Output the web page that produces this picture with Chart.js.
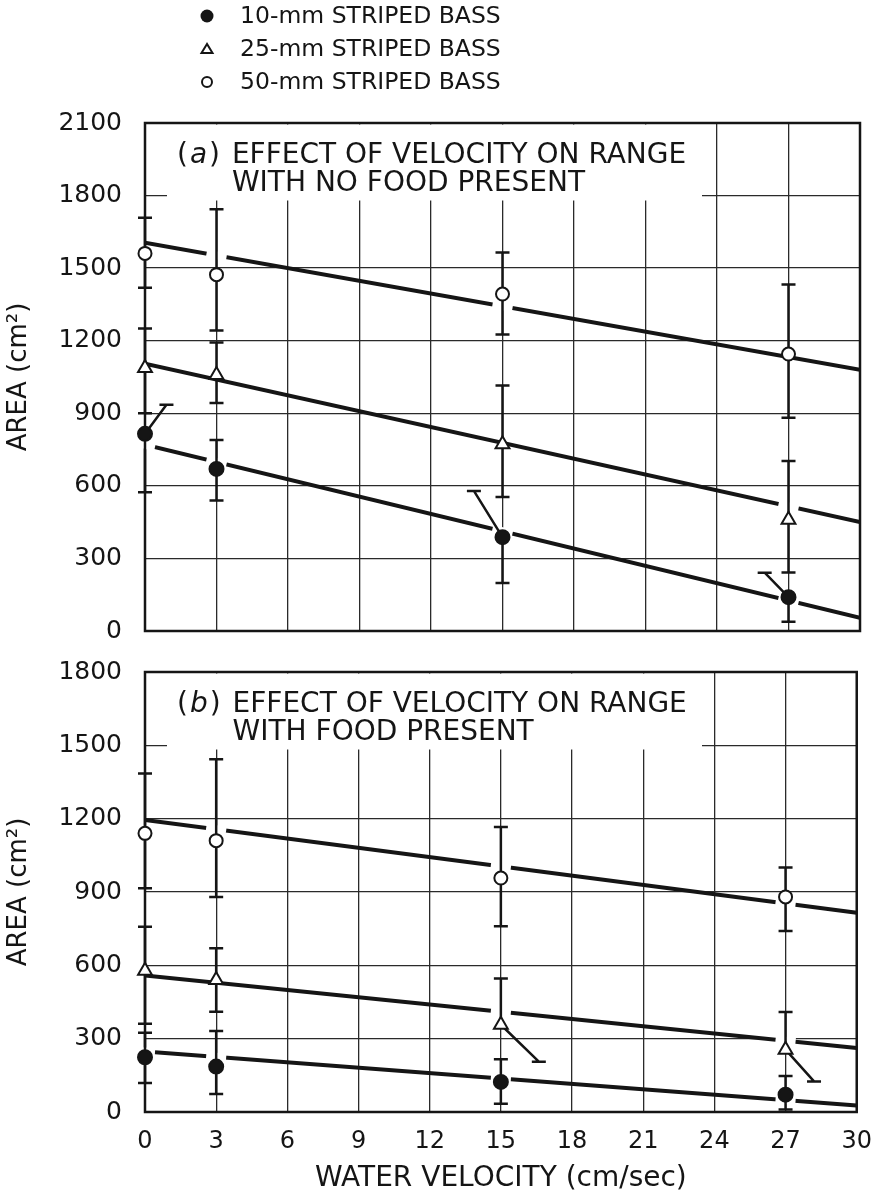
<!DOCTYPE html>
<html>
<head>
<meta charset="utf-8">
<script src="https://cdn.jsdelivr.net/npm/chart.js@4.4.1/dist/chart.umd.min.js"></script>
<style>
    html, body { margin: 0; padding: 0; background: #fff; }
    #wrap { position: relative; width: 887px; height: 1198px; }
    /* the two canvases overlap a little: the y tick padding forces 38px above/below each plot */
    #boxA { position: absolute; left: 0; top: 0; width: 887px; height: 669px; }
    #boxB { position: absolute; left: 0; top: 634px; width: 887px; height: 564px; }
</style>
</head>
<body>
<div id="wrap">
    <div id="boxA"><canvas id="chartA"></canvas></div>
    <div id="boxB"><canvas id="chartB"></canvas></div>
</div>
<script>
// ============================================
// Data
// ============================================

const velocity = [0, 3, 15, 27];
const fitX = [0, 30];
const sizes = ['10-mm STRIPED BASS', '25-mm STRIPED BASS', '50-mm STRIPED BASS'];

const xTickValues = [0, 3, 6, 9, 12, 15, 18, 21, 24, 27, 30];
const yTickValuesA = [0, 300, 600, 900, 1200, 1500, 1800, 2100];
const yTickValuesB = [0, 300, 600, 900, 1200, 1500, 1800];

// (a) no food present
const a10 = [815, 670, 388, 140];
const a10Hi = [935, 790, 579, 241];
const a10Lo = [574, 539, 198, 38];
const a25 = [1087, 1058, 772, 460];
const a25Hi = [1251, 1193, 1015, 703];
const a25Lo = [900, 943, 554, 242];
const a50 = [1561, 1473, 1393, 1145];
const a50Hi = [1708, 1743, 1565, 1432];
const a50Lo = [1419, 1242, 1226, 882];
const aFit10 = [770, 55];
const aFit25 = [1105, 450];
const aFit50 = [1605, 1080];

// (b) food present
const b10 = [224, 186, 123, 71];
const b10Hi = [324, 331, 216, 147];
const b10Lo = [119, 74, 34, 10];
const b25 = [578, 540, 357, 255];
const b25Hi = [758, 670, 546, 409];
const b25Lo = [361, 410, 206, 125];
const b50 = [1140, 1110, 957, 880];
const b50Hi = [1385, 1443, 1166, 1000];
const b50Lo = [915, 880, 760, 740];
const bFit10 = [248, 27];
const bFit25 = [558, 262];
const bFit50 = [1195, 815];

const noteA = ['EFFECT OF VELOCITY ON RANGE', 'WITH NO FOOD PRESENT'];
const noteB = ['EFFECT OF VELOCITY ON RANGE', 'WITH FOOD PRESENT'];

// limbs the print draws on a slant to dodge neighbouring bars (dx in cm/sec)
const slantA = [
    { size: 0, point: 0, end: 'hi', dx: 0.9 },
    { size: 0, point: 2, end: 'hi', dx: -1.2 },
    { size: 0, point: 3, end: 'hi', dx: -1.0 }
];
const slantB = [
    { size: 1, point: 2, end: 'lo', dx: 1.6 },
    { size: 1, point: 3, end: 'lo', dx: 1.2 }
];

// where the print leaves a break in each fitted line (point indexes, per size)
const breaksA = [[0, 1, 2, 3], [3], [1, 2]];
const breaksB = [[0, 1, 2, 3], [2, 3], [1, 2, 3]];

// ============================================
// Styling
// ============================================

const INK = '#151515';
const FONT = '"DejaVu Sans", sans-serif';

const markerStyle = [
    { pointStyle: 'circle', radius: 7, fill: INK },
    { pointStyle: 'triangle', radius: 8, fill: '#fff' },
    { pointStyle: 'circle', radius: 6.5, fill: '#fff' }
];

// ============================================
// Plugins
// ============================================

const errorBars = {
    id: 'errorBars',
    beforeDatasetsDraw(chart) {
        chart.$barsDrawn = false;
    },
    beforeDatasetDraw(chart, args, opts) {
        const sets = chart.data.datasets;
        if (sets[args.index].kind !== 'marker' || chart.$barsDrawn) return;
        chart.$barsDrawn = true;

        const ctx = chart.ctx;
        const xs = chart.scales.x;
        const ys = chart.scales.y;
        ctx.save();

        // short breaks in the fitted lines where they meet an error bar
        ctx.strokeStyle = '#fff';
        ctx.lineWidth = 8;
        sets.forEach((d, di) => {
            if (d.kind !== 'marker') return;
            const fi = sets.findIndex(f => f.kind === 'fit' && f.size === d.size);
            const fp = chart.getDatasetMeta(fi).data;
            const slope = (fp[1].y - fp[0].y) / (fp[1].x - fp[0].x);
            const pts = chart.getDatasetMeta(di).data;
            (opts.breaks[d.size] || []).forEach(j => {
                const p = pts[j];
                const ly = fp[0].y + slope * (p.x - fp[0].x);
                ctx.beginPath();
                ctx.moveTo(p.x - 10, ly - slope * 10);
                ctx.lineTo(p.x + 10, ly + slope * 10);
                ctx.stroke();
            });
        });

        ctx.strokeStyle = INK;
        ctx.lineWidth = 2.5;
        sets.forEach((d, di) => {
            if (d.kind !== 'marker') return;
            chart.getDatasetMeta(di).data.forEach((p, j) => {
                [['hi', d.hi[j]], ['lo', d.lo[j]]].forEach(([end, v]) => {
                    const s = (opts.slants || []).find(k => k.size === d.size && k.point === j && k.end === end);
                    const xe = s ? xs.getPixelForValue(velocity[j] + s.dx) : p.x;
                    const ye = ys.getPixelForValue(v);
                    ctx.beginPath();
                    ctx.moveTo(p.x, p.y);
                    ctx.lineTo(xe, ye);
                    ctx.moveTo(xe - 7, ye);
                    ctx.lineTo(xe + 7, ye);
                    ctx.stroke();
                });
            });
        });
        ctx.restore();
    }
};

const panelNote = {
    id: 'panelNote',
    beforeDatasetsDraw(chart, args, opts) {
        const ctx = chart.ctx;
        const a = chart.chartArea;
        ctx.save();

        // the lettering sits on a blank patch of the grid
        ctx.fillStyle = '#fff';
        ctx.fillRect(a.left + 22, a.top + 1.5, 535, 76);

        ctx.fillStyle = INK;
        ctx.textBaseline = 'middle';
        const size = 28;
        const y1 = a.top + 33;
        const y2 = a.top + 61;
        let x = a.left + 32;

        ctx.font = size + 'px ' + FONT;
        ctx.fillText('(', x, y1);
        x += ctx.measureText('(').width + 2;
        ctx.font = 'italic ' + size + 'px ' + FONT;
        ctx.fillText(opts.letter, x, y1);
        x += ctx.measureText(opts.letter).width + 2;
        ctx.font = size + 'px ' + FONT;
        ctx.fillText(')', x, y1);
        x += ctx.measureText(') ').width + 3;
        ctx.fillText(opts.lines[0], x, y1);
        ctx.fillText(opts.lines[1], x, y2);

        // plot frame on all four sides
        ctx.strokeStyle = INK;
        ctx.lineWidth = 2.5;
        ctx.strokeRect(a.left, a.top, a.right - a.left, a.bottom - a.top);
        ctx.restore();
    }
};

const sizeKey = {
    id: 'sizeKey',
    afterDraw(chart, args, opts) {
        if (!opts.show) return;
        const ctx = chart.ctx;
        ctx.save();
        ctx.font = '23.5px ' + FONT;
        ctx.textBaseline = 'middle';
        ctx.strokeStyle = INK;
        ctx.lineWidth = 2;
        sizes.forEach((label, i) => {
            const y = 16 + i * 33;
            const x = 207;
            ctx.beginPath();
            if (i === 1) {
                ctx.moveTo(x, y - 5);
                ctx.lineTo(x - 5.5, y + 4);
                ctx.lineTo(x + 5.5, y + 4);
                ctx.closePath();
                ctx.fillStyle = '#fff';
                ctx.fill();
                ctx.stroke();
            } else if (i === 0) {
                ctx.arc(x, y, 6.5, 0, Math.PI * 2);
                ctx.fillStyle = INK;
                ctx.fill();
            } else {
                ctx.arc(x, y, 5, 0, Math.PI * 2);
                ctx.fillStyle = '#fff';
                ctx.fill();
                ctx.stroke();
            }
            ctx.fillStyle = INK;
            ctx.fillText(label, 240, y + 1);
        });
        ctx.restore();
    }
};

// ============================================
// Chart builders
// ============================================

function panelDatasets(means, his, los, fits) {
    const sets = [];
    fits.forEach((f, i) => sets.push({
        kind: 'fit',
        size: i,
        data: fitX.map((x, j) => ({ x, y: f[j] })),
        showLine: true,
        borderColor: INK,
        borderWidth: 4,
        pointRadius: 0,
        order: 10
    }));
    means.forEach((m, i) => sets.push({
        kind: 'marker',
        size: i,
        data: velocity.map((x, j) => ({ x, y: m[j] })),
        hi: his[i],
        lo: los[i],
        pointStyle: markerStyle[i].pointStyle,
        pointRadius: markerStyle[i].radius,
        backgroundColor: markerStyle[i].fill,
        borderColor: INK,
        borderWidth: 2,
        clip: false,
        order: 1
    }));
    return sets;
}

function buildPanel(canvasId, cfg) {
    const ctx = document.getElementById(canvasId).getContext('2d');
    return new Chart(ctx, {
        type: 'scatter',
        data: { datasets: panelDatasets(cfg.means, cfg.his, cfg.los, cfg.fits) },
        options: {
            responsive: true,
            maintainAspectRatio: false,
            animation: false,
            events: [],
            layout: { padding: cfg.padding },
            plugins: {
                legend: { display: false },
                tooltip: { enabled: false },
                errorBars: { slants: cfg.slants, breaks: cfg.breaks },
                panelNote: { letter: cfg.letter, lines: cfg.note },
                sizeKey: { show: cfg.showKey }
            },
            scales: {
                x: {
                    type: 'linear',
                    min: 0,
                    max: 30,
                    afterBuildTicks: s => { s.ticks = xTickValues.map(v => ({ value: v })); },
                    afterFit: s => { s.height = cfg.xHeight; },
                    border: { display: false },
                    grid: { color: '#2a2a2a', lineWidth: 1.3, drawTicks: false },
                    ticks: {
                        display: cfg.showX,
                        color: INK,
                        padding: 15,
                        font: { family: FONT, size: 24 }
                    },
                    title: {
                        display: cfg.showX,
                        text: 'WATER VELOCITY (cm/sec)',
                        color: INK,
                        padding: { top: 0, bottom: 0 },
                        font: { family: FONT, size: 28 }
                    }
                },
                y: {
                    min: 0,
                    max: cfg.yMax,
                    afterBuildTicks: s => { s.ticks = cfg.yTicks.map(v => ({ value: v })); },
                    afterFit: s => { s.width = 145; },
                    border: { display: false },
                    grid: { color: '#2a2a2a', lineWidth: 1.3, drawTicks: false },
                    ticks: {
                        color: INK,
                        padding: 23,
                        font: { family: FONT, size: 25 },
                        callback: v => String(v)
                    },
                    title: {
                        display: true,
                        text: 'AREA (cm\u00B2)',
                        color: INK,
                        font: { family: FONT, size: 26 }
                    }
                }
            }
        },
        plugins: [panelNote, errorBars, sizeKey]
    });
}

// ============================================
// Initialization
// ============================================

buildPanel('chartA', {
    means: [a10, a25, a50],
    his: [a10Hi, a25Hi, a50Hi],
    los: [a10Lo, a25Lo, a50Lo],
    fits: [aFit10, aFit25, aFit50],
    slants: slantA,
    breaks: breaksA,
    letter: 'a',
    note: noteA,
    yMax: 2100,
    yTicks: yTickValuesA,
    showX: false,
    xHeight: 0,
    showKey: true,
    padding: { top: 123, right: 27, bottom: 38, left: 0 }
});

buildPanel('chartB', {
    means: [b10, b25, b50],
    his: [b10Hi, b25Hi, b50Hi],
    los: [b10Lo, b25Lo, b50Lo],
    fits: [bFit10, bFit25, bFit50],
    slants: slantB,
    breaks: breaksB,
    letter: 'b',
    note: noteB,
    yMax: 1800,
    yTicks: yTickValuesB,
    showX: true,
    xHeight: 84,
    showKey: false,
    padding: { top: 38, right: 27, bottom: 2, left: 0 }
});
</script>
</body>
</html>
